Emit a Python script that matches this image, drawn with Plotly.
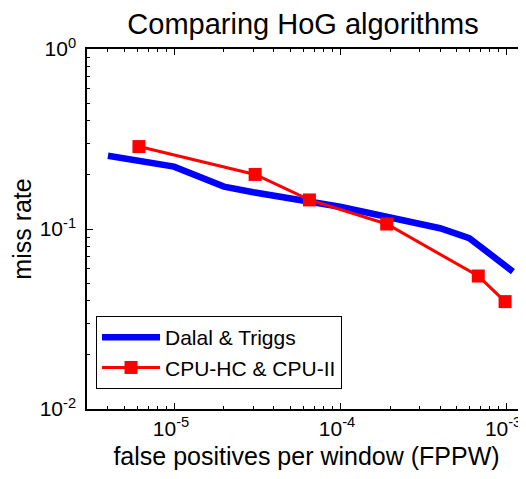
import plotly.graph_objects as go

# Data
dalal_fppw = [4.0e-6, 1.0e-5, 2.0e-5, 3.0e-5, 1.0e-4, 2.0e-4, 4.0e-4, 6.0e-4, 1.1e-3]
dalal_miss = [0.255, 0.222, 0.172, 0.160, 0.133, 0.117, 0.101, 0.089, 0.058]

cpu_fppw = [6.15e-6, 3.08e-5, 6.54e-5, 1.91e-4, 6.8e-4, 9.86e-4]
cpu_miss = [0.287, 0.201, 0.145, 0.1066, 0.0548, 0.0395]

x_tickvals = [1e-5, 1e-4, 1e-3]
x_ticktext = ["10<sup>-5</sup>", "10<sup>-4</sup>", "10<sup>-3</sup>"]
y_tickvals = [1e-2, 1e-1, 1e0]
y_ticktext = ["10<sup>-2</sup>", "10<sup>-1</sup>", "10<sup>0</sup>"]

FONT = "Liberation Sans, Arial, sans-serif"

fig = go.Figure()
fig.add_trace(go.Scatter(
    x=dalal_fppw, y=dalal_miss, mode="lines", name="Dalal & Triggs",
    line=dict(color="#0000ff", width=6.5),
))
fig.add_trace(go.Scatter(
    x=cpu_fppw, y=cpu_miss, mode="lines+markers", name="CPU-HC & CPU-II",
    line=dict(color="#ff0000", width=3),
    marker=dict(symbol="square", size=13, color="#ff0000"),
))

# page body adds an 8px offset, so figure coordinates are shifted by -8
W, H = 526, 479
L, R, T, B = 79, 8, 41, 78

fig.update_layout(
    width=W, height=H,
    margin=dict(l=L, r=R, t=T, b=B, autoexpand=False),
    paper_bgcolor="white", plot_bgcolor="white",
    font=dict(family=FONT, color="black", size=20),
    title=dict(text="Comparing HoG algorithms", x=295 / W, xanchor="center",
               y=1 - 16 / H, yanchor="middle",
               font=dict(size=29, family=FONT, color="black")),
    showlegend=True,
    legend=dict(
        x=9 / (W - L - R), y=(401 - 308) / (H - T - B),
        xanchor="left", yanchor="top",
        bordercolor="black", borderwidth=1, bgcolor="white",
        font=dict(size=21, family=FONT, color="black"),
        tracegroupgap=0, itemwidth=58,
    ),
)

fig.update_xaxes(
    type="log", range=[-5.524, -2.880], automargin=False,
    showline=True, linecolor="black", linewidth=1.5, mirror="allticks",
    ticks="inside", ticklen=6, tickcolor="black",
    tickvals=x_tickvals, ticktext=x_ticktext, ticklabelshift=-3,
    tickfont=dict(size=21, family=FONT, color="black"),
    minor=dict(ticks="inside", ticklen=3, tickcolor="black", dtick="D1", showgrid=False),
    showgrid=False, zeroline=False,
    title=dict(text="false positives per window (FPPW)", standoff=9,
               font=dict(size=25, family=FONT, color="black")),
)
fig.update_yaxes(
    type="log", range=[-2, 0], automargin=False,
    showline=True, linecolor="black", linewidth=1.5, mirror=False,
    ticks="inside", ticklen=6, tickcolor="black",
    tickvals=y_tickvals, ticktext=y_ticktext, ticklabelstandoff=5,
    tickfont=dict(size=21, family=FONT, color="black"),
    minor=dict(ticks="inside", ticklen=3, tickcolor="black", dtick="D1", showgrid=False),
    showgrid=False, zeroline=False,
    title=dict(text="miss rate", standoff=4,
               font=dict(size=25, family=FONT, color="black")),
)

fig.write_html("out.html")
